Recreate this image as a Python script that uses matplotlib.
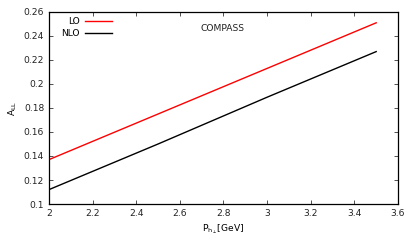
import matplotlib
matplotlib.use("Agg")
import matplotlib.pyplot as plt
from matplotlib.ticker import FuncFormatter

x_lo = [2.0, 2.5, 3.0, 3.5]
y_lo = [0.137, 0.175, 0.213, 0.251]
x_nlo = [2.0, 2.5, 3.0, 3.5]
y_nlo = [0.112, 0.150, 0.189, 0.227]

xticks = [2, 2.2, 2.4, 2.6, 2.8, 3, 3.2, 3.4, 3.6]
yticks = [0.1, 0.12, 0.14, 0.16, 0.18, 0.2, 0.22, 0.24, 0.26]

fig = plt.figure(figsize=(4.15, 2.49), dpi=100)
ax = fig.add_axes([49/415, 1-204/249, (398-49)/415, (204-12)/249])
ax.plot(x_lo, y_lo, color="red", lw=1.0, label="LO")
ax.plot(x_nlo, y_nlo, color="black", lw=1.0, label="NLO")
ax.set_xlim(2, 3.6)
ax.set_ylim(0.1, 0.26)
ax.set_xticks(xticks)
ax.set_yticks(yticks)
fmt = FuncFormatter(lambda v, p: "%g" % round(v, 4))
ax.xaxis.set_major_formatter(fmt)
ax.yaxis.set_major_formatter(fmt)
ax.tick_params(direction="in", top=True, right=True, labelsize=6.6, length=3, width=0.6, colors="#333333", labelcolor="#222222")
for s in ax.spines.values():
    s.set_linewidth(0.9)
ax.set_xlabel(r"P$_{\mathregular{h_\perp}}$[GeV]", fontsize=6.6, labelpad=3)
ax.set_ylabel(r"A$_{\mathregular{LL}}$", fontsize=6.6, labelpad=3)
ax.text(0.435, 0.915, "COMPASS", transform=ax.transAxes, fontsize=6.6, ha="left", va="center", color="#222222")
leg = ax.legend(loc="upper left", frameon=False, fontsize=6.6, markerfirst=False,
                handlelength=2.9, borderaxespad=0.2, labelspacing=0.25, handletextpad=0.6,
                bbox_to_anchor=(0.02, 1.0))
for t in leg.get_texts():
    t.set_ha("right")
fig.savefig("out.png", dpi=100)
